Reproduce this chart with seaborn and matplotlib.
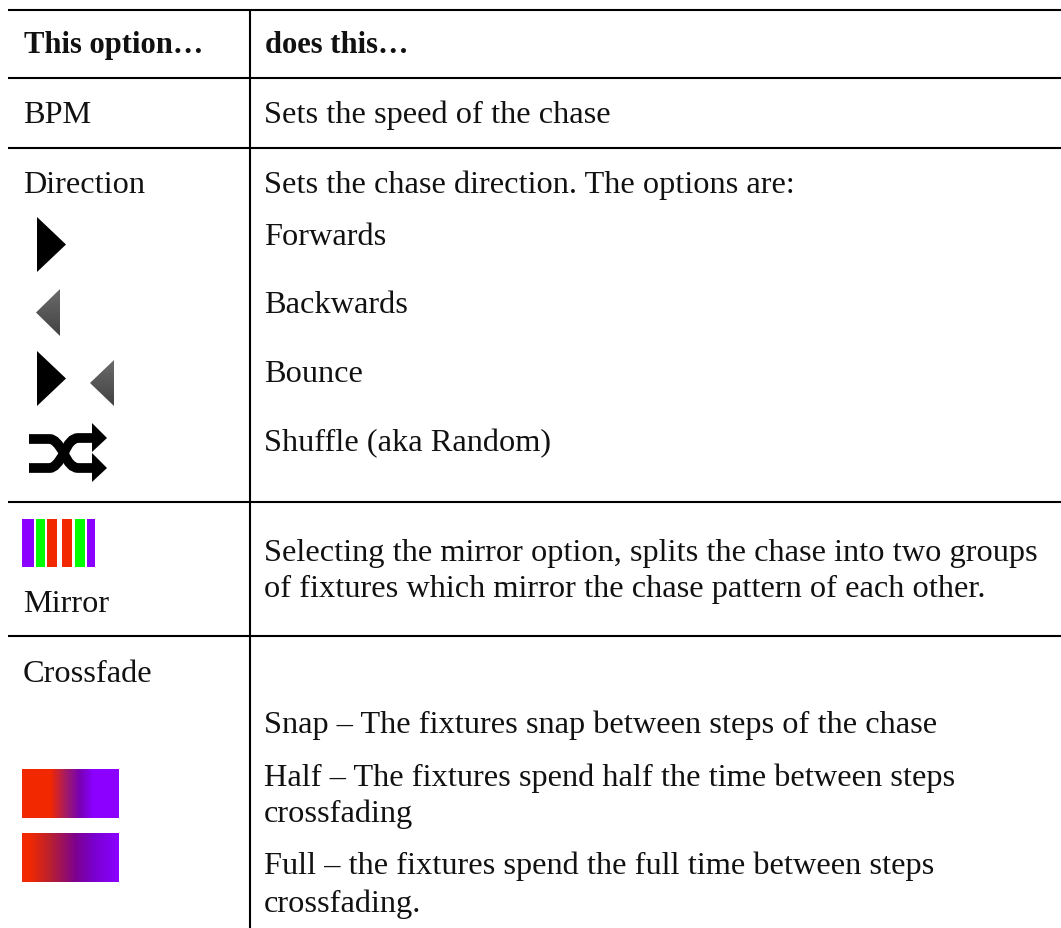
import numpy as np
import seaborn as sns
from matplotlib import pyplot as plt
from matplotlib.colors import LinearSegmentedColormap
from matplotlib.patches import Polygon, PathPatch, Rectangle
from matplotlib.path import Path

WIDTH, HEIGHT = 1061, 929

# table text
header_cells = ["This option…", "does this…"]
left_cells = ["BPM", "Direction", "Mirror", "Crossfade"]
left_baselines = [123, 193, 612, 682]
right_cells = [
    "Sets the speed of the chase",
    "Sets the chase direction. The options are:",
    "Forwards",
    "Backwards",
    "Bounce",
    "Shuffle (aka Random)",
    "Selecting the mirror option, splits the chase into two groups",
    "of fixtures which mirror the chase pattern of each other.",
    "Snap – The fixtures snap between steps of the chase",
    "Half – The fixtures spend half the time between steps",
    "crossfading",
    "Full – the fixtures spend the full time between steps",
    "crossfading.",
]
right_baselines = [123, 193, 245, 313, 382, 451, 561, 597, 733, 786, 822, 874, 912]

# rules
row_rules = [10, 78, 148, 502, 636]
column_rule = 250

# mirror icon stripes: left, right, colour
stripe_left = [22, 36, 47, 62, 75, 87]
stripe_right = [34, 45, 57, 72, 85, 95]
stripe_colors = ["#8b00ff", "#00ff00", "#f22800", "#f22800", "#00ff00", "#8b00ff"]

# crossfade swatches
half_stops = [(0.0, "#f22800"), (0.29, "#f22800"), (0.46, "#a01a68"), (0.6, "#7800b4"), (0.74, "#8b00ff"), (1.0, "#8b00ff")]
full_stops = [(0.0, "#f22800"), (0.07, "#f22800"), (0.29, "#b8202f"), (0.56, "#7c0090"), (0.75, "#7a00d0"), (1.0, "#8b00ff")]

sns.set_theme(style="white")
plt.rcParams["font.family"] = ["Liberation Serif", "DejaVu Serif"]

fig = plt.figure(figsize=(WIDTH / 100, HEIGHT / 100), dpi=100)
ax = fig.add_axes([0, 0, 1, 1])
ax.set_xlim(0, WIDTH)
ax.set_ylim(HEIGHT - 1, -1)
ax.axis("off")

for y in row_rules:
    ax.plot([8, WIDTH], [y, y], color="black", lw=1.5, solid_capstyle="butt")
ax.plot([column_rule, column_rule], [row_rules[0], HEIGHT], color="black", lw=1.5, solid_capstyle="butt")

text_size = 23.3
ax.text(24, 52, header_cells[0], fontsize=22.1, fontweight="bold", color="#111111", va="baseline")
ax.text(265, 52, header_cells[1], fontsize=22.1, fontweight="bold", color="#111111", va="baseline")
for label, y in zip(left_cells, left_baselines):
    ax.text(23, y - 1, label, fontsize=text_size, color="#111111", va="baseline")
for label, y in zip(right_cells, right_baselines):
    ax.text(264, y - 1, label, fontsize=text_size, color="#111111", va="baseline")


def right_arrow(x0, x1, y0, y1):
    ax.add_patch(Polygon([(x0, y0), (x1, (y0 + y1) / 2), (x0, y1)], closed=True, color="black", lw=0))


def left_arrow(x0, x1, y0, y1):
    # grey triangle with a soft vertical gradient
    img = ax.imshow(
        np.linspace(0.42, 0.26, 40)[:, None],
        extent=[x0, x1, y1, y0],
        cmap="gray",
        vmin=0,
        vmax=1,
        aspect="auto",
        zorder=2,
    )
    tri = Polygon([(x1, y0), (x0, (y0 + y1) / 2), (x1, y1)], closed=True, transform=ax.transData)
    img.set_clip_path(tri)


right_arrow(37, 66, 217, 272)
left_arrow(36, 60, 289, 336)
right_arrow(37, 66, 351, 406)
left_arrow(90, 114, 360, 406)
ax.set_xlim(0, WIDTH)
ax.set_ylim(HEIGHT - 1, -1)

# shuffle icon
for start, end, tip in [((29, 468), (78, 438), 438), ((29, 439), (78, 468), 468)]:
    verts = [start, (50, start[1]), (56, start[1]), (64, (start[1] + end[1]) / 2), (70, end[1]), (78, end[1]), (96, tip)]
    codes = [Path.MOVETO, Path.LINETO, Path.CURVE3, Path.CURVE3, Path.CURVE3, Path.CURVE3, Path.LINETO]
    ax.add_patch(PathPatch(Path(verts, codes), fill=False, edgecolor="black", lw=7, capstyle="butt", zorder=3))
    ax.add_patch(Polygon([(92, tip - 15), (107, tip), (92, tip + 14)], closed=True, color="black", lw=0, zorder=3))

# mirror icon
for x0, x1, c in zip(stripe_left, stripe_right, stripe_colors):
    ax.add_patch(Rectangle((x0, 519), x1 - x0, 48, color=c, lw=0))


def swatch(stops, y0, y1):
    cmap = LinearSegmentedColormap.from_list("fade", stops)
    inset = fig.add_axes([22 / WIDTH, 1 - (y1 + 1) / HEIGHT, 97 / WIDTH, (y1 - y0) / HEIGHT])
    sns.heatmap(np.linspace(0, 1, 97)[None, :], cmap=cmap, vmin=0, vmax=1, cbar=False,
                xticklabels=False, yticklabels=False, ax=inset)


swatch(half_stops, 769, 818)
swatch(full_stops, 833, 882)

fig.savefig("out.png", dpi=100)
